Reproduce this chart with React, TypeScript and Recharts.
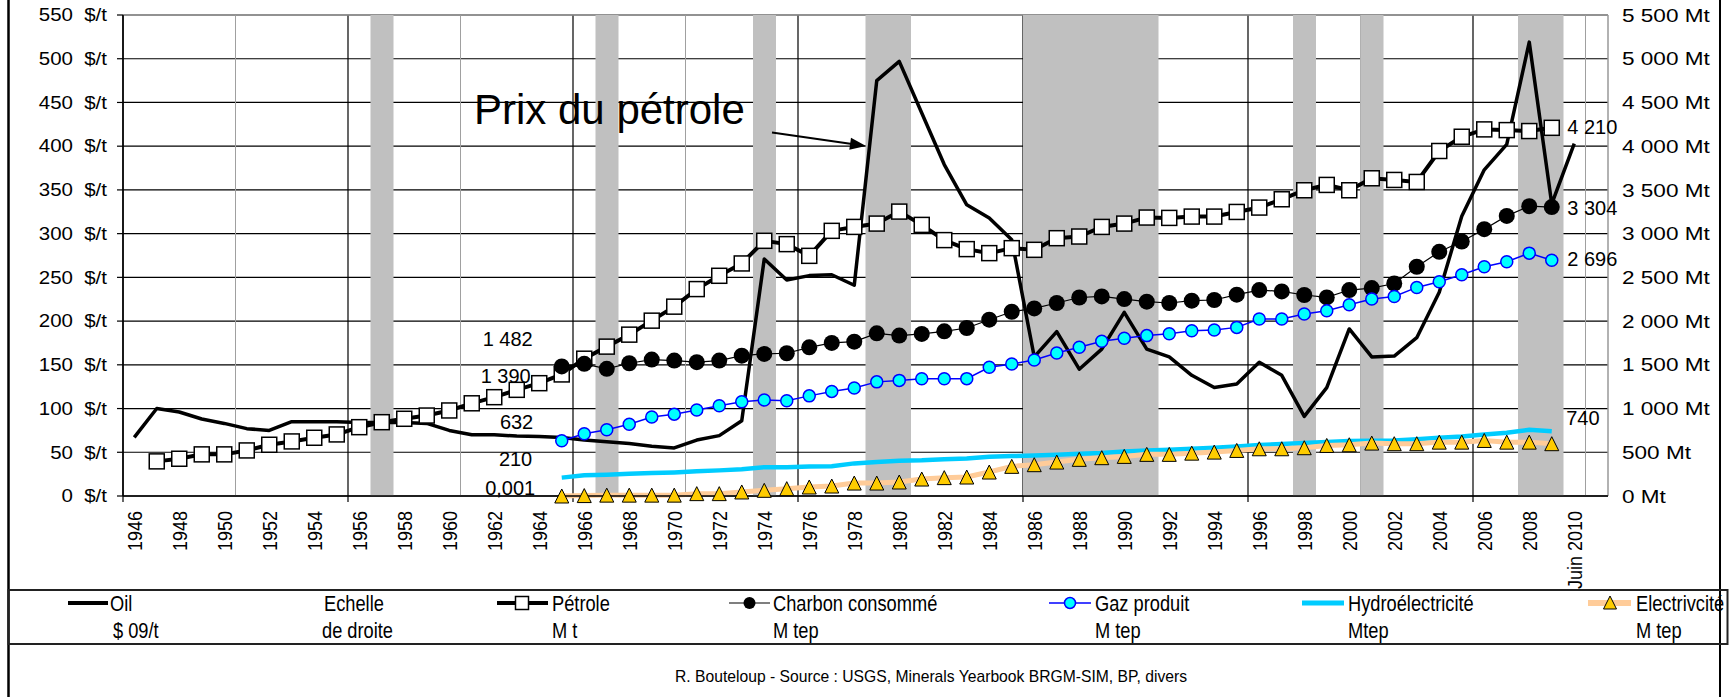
import React from "react"
import { ComposedChart, Line, Bar, XAxis, YAxis, CartesianGrid, ReferenceLine } from "recharts"

const FONT = '"Liberation Sans", Arial, sans-serif'

// catégories (la dernière est vide, comme sur le graphique Excel)
const years = [
  "1946", "1947", "1948", "1949", "1950", "1951", "1952", "1953", "1954", "1955",
  "1956", "1957", "1958", "1959", "1960", "1961", "1962", "1963", "1964", "1965",
  "1966", "1967", "1968", "1969", "1970", "1971", "1972", "1973", "1974", "1975",
  "1976", "1977", "1978", "1979", "1980", "1981", "1982", "1983", "1984", "1985",
  "1986", "1987", "1988", "1989", "1990", "1991", "1992", "1993", "1994", "1995",
  "1996", "1997", "1998", "1999", "2000", "2001", "2002", "2003", "2004", "2005",
  "2006", "2007", "2008", "2009", "2010", "2011",
]

// prix du pétrole, $ 2009 / t (1946 -> juin 2010)
const oil = [
  67, 100, 96, 88, 83, 77, 75, 85, 85, 85,
  84, 84, 84, 83, 75, 70, 70, 68.5, 68, 67,
  64, 62, 60, 57, 55, 64, 69, 86, 271, 247,
  252, 253, 241, 475, 497, 438, 379, 333, 318, 293,
  159, 188, 145, 168, 210, 168, 159, 138, 124, 128,
  153, 138, 91, 124, 191, 159, 160, 181, 233, 320,
  373, 402, 519, 334, 403,
]

// production de pétrole, Mt (1947 -> 2009)
const petrole = [
  396, 426, 476,
  476, 521, 586, 624, 666, 704, 787, 844, 883, 920,
  978, 1060, 1130, 1214, 1290, 1390, 1570, 1708, 1845, 2005,
  2165, 2366, 2518, 2659, 2918, 2880, 2746, 3032, 3077, 3115,
  3252, 3100, 2926, 2823, 2777, 2834, 2815, 2948, 2967, 3077,
  3115, 3184, 3180, 3195, 3195, 3248, 3298, 3393, 3496, 3557,
  3496, 3633, 3614, 3591, 3945, 4108, 4192, 4184, 4173, 4210,
]

// séries en M tep (1965 -> 2009)
const charbon = [
  1482, 1511, 1454, 1518, 1560,
  1548, 1530, 1548, 1605, 1625, 1632, 1700, 1750, 1765, 1860,
  1834, 1853, 1883, 1921, 2016, 2107, 2145, 2207, 2270, 2282,
  2252, 2222, 2207, 2233, 2241, 2302, 2355, 2339, 2298, 2271,
  2355, 2378, 2430, 2621, 2792, 2910, 3051, 3203, 3314, 3304,
]
const gaz = [
  632, 712, 757, 820, 903,
  936, 983, 1031, 1078, 1097, 1090, 1145, 1196, 1234, 1305,
  1322, 1340, 1340, 1342, 1472, 1510, 1556, 1636, 1700, 1769,
  1803, 1834, 1855, 1890, 1899, 1928, 2024, 2024, 2081, 2119,
  2187, 2252, 2282, 2385, 2450, 2530, 2621, 2678, 2777, 2696,
]
const hydro = [
  210, 236, 244, 255, 262,
  270, 282, 293, 305, 330, 330, 336, 341, 373, 388,
  404, 408, 419, 430, 450, 456, 464, 472, 484, 491,
  510, 520, 529, 540, 552, 567, 582, 594, 605, 617,
  628, 632, 635, 650, 666, 680, 704, 723, 757, 740,
]
const elec = [
  0.001, 5, 10, 10, 10,
  10, 27, 27, 46, 65, 84, 103, 114, 148, 148,
  160, 194, 210, 217, 274, 339, 358, 388, 419, 438,
  453, 476, 476, 490, 502, 521, 540, 540, 552, 578,
  586, 605, 598, 598, 616, 616, 635, 616, 616, 598,
]

// années grisées
const crisisYears = ["1957", "1967", "1974", "1979", "1980", "1986", "1987", "1988", "1989", "1990", "1991", "1998", "2001", "2008", "2009"]
const minorGridYears = ["1951", "1961", "1971", "1981", "1991", "2001", "2011"]
const majorGridYears = ["1946", "1956", "1966", "1976", "1986", "1996", "2006"]

const leftTicks = [0, 50, 100, 150, 200, 250, 300, 350, 400, 450, 500, 550]
const rightTicks = [0, 500, 1000, 1500, 2000, 2500, 3000, 3500, 4000, 4500, 5000, 5500]

const align = (start: number, values: number[]) =>
  years.map((y) => {
    const i = Number(y) - start
    return i >= 0 && i < values.length ? values[i] : null
  })

const data = (() => {
  const o = align(1946, oil)
  const p = align(1947, petrole)
  const c = align(1965, charbon)
  const g = align(1965, gaz)
  const h = align(1965, hydro)
  const e = align(1965, elec)
  return years.map((year, i) => ({
    year,
    oil: o[i],
    petrole: p[i],
    charbon: c[i],
    gaz: g[i],
    hydro: h[i],
    elec: e[i],
    crise: crisisYears.includes(year) ? 550 : null,
  }))
})()

// 1482 -> "1 482", 0.001 -> "0,001"
const fmt = (v: number) => {
  const [int, dec] = String(v).split(".")
  return int.replace(/\B(?=(\d{3})+(?!\d))/g, " ") + (dec ? "," + dec : "")
}

type PointLabel = { year: string; anchor: "start" | "end"; dx: number; dy: number }

function makeDot(values: (number | null)[], marker: (cx: number, cy: number) => React.ReactNode, labels: PointLabel[]) {
  return (props: any) => {
    const { cx, cy, index } = props
    if (cx == null || cy == null || isNaN(cy) || values[index] == null) return <g key={`d${index}`} />
    const lab = labels.find((l) => years.indexOf(l.year) === index)
    return (
      <g key={`d${index}`}>
        {marker(cx, cy)}
        {lab && (
          <text x={cx + lab.dx} y={cy + lab.dy} textAnchor={lab.anchor} fontSize={20} fontFamily={FONT} fill="#000">
            {fmt(values[index] as number)}
          </text>
        )}
      </g>
    )
  }
}

const square = (cx: number, cy: number) => (
  <rect x={cx - 7.5} y={cy - 7.5} width={15} height={15} fill="#fff" stroke="#000" strokeWidth={1.5} />
)
const blackDot = (cx: number, cy: number) => <circle cx={cx} cy={cy} r={8} fill="#000" />
const cyanDot = (cx: number, cy: number) => <circle cx={cx} cy={cy} r={6} fill="#00FFFF" stroke="#0000FF" strokeWidth={1.5} />
const triangle = (cx: number, cy: number) => (
  <polygon points={`${cx},${cy - 7} ${cx - 7},${cy + 7} ${cx + 7},${cy + 7}`} fill="#FFCC00" stroke="#000" strokeWidth={1} />
)

const LeftTick = ({ x, y, payload }: any) => (
  <g>
    <text transform={`translate(${x - 44},${y + 6.3}) scale(1.17,1)`} textAnchor="end" fontSize={17.5} fontFamily={FONT} fill="#000">
      {payload.value}
    </text>
    <text transform={`translate(${x - 10},${y + 6.3}) scale(1.17,1)`} textAnchor="end" fontSize={17.5} fontFamily={FONT} fill="#000">
      $/t
    </text>
  </g>
)

const RightTick = ({ x, y, payload }: any) => (
  <text transform={`translate(${x + 14},${y + 6.6}) scale(1.22,1)`} fontSize={18.5} fontFamily={FONT} fill="#000">
    {fmt(payload.value)} Mt
  </text>
)

const BottomTick = ({ x, y, payload, index }: any) => {
  if (index % 2 !== 0 || payload.value === "2011") return <g />
  const label = payload.value === "2010" ? "Juin 2010" : payload.value
  return (
    <text transform={`translate(${x + 7.5},${y + 15}) scale(1.17,1) rotate(-90)`} textAnchor="end" fontSize={18} fontFamily={FONT} fill="#000">
      {label}
    </text>
  )
}

const gridShape = (color: string, width: number, tick: number) => (p: any) => {
  const top = Math.min(p.y1, p.y2)
  const bottom = Math.max(p.y1, p.y2)
  return <line x1={p.x1} x2={p.x2} y1={top} y2={bottom + tick} stroke={color} strokeWidth={width} />
}

const LegendText = ({ x, y, children }: any) => (
  <text transform={`translate(${x},${y}) scale(0.83,1)`} fontSize={22} fontFamily={FONT} fill="#000">
    {children}
  </text>
)

export default function App() {
  return (
    <div style={{ position: "absolute", left: 0, top: 0, width: 1736, height: 697, background: "#fff", overflow: "hidden" }}>
      <ComposedChart
        width={1736}
        height={697}
        data={data}
        margin={{ top: 15, right: 0, bottom: 0, left: 0 }}
        barCategoryGap={0}
        barGap={0}
      >
        <CartesianGrid yAxisId="left" vertical={false} stroke="#000" strokeWidth={1.2} />

        {minorGridYears.map((y) => (
          <ReferenceLine key={`mi${y}`} x={y} yAxisId="left" position="start" zIndex={-90}
            shape={gridShape("#A0A0A0", 1, 0)} />
        ))}
        {majorGridYears.map((y) => (
          <ReferenceLine key={`ma${y}`} x={y} yAxisId="left" position="start" zIndex={-90}
            shape={gridShape("#000", 1.2, 6)} />
        ))}
        <ReferenceLine y={550} yAxisId="left" stroke="#999" strokeWidth={1.5} zIndex={-90} />
        <ReferenceLine x="2011" yAxisId="left" position="end" stroke="#999" strokeWidth={1.5} zIndex={-90} />

        <Bar dataKey="crise" yAxisId="left" fill="#C0C0C0" isAnimationActive={false} />

        <Line dataKey="oil" yAxisId="left" stroke="#000" strokeWidth={3.5} dot={false} activeDot={false}
          strokeLinejoin="round" isAnimationActive={false} />
        <Line dataKey="petrole" yAxisId="right" stroke="#000" strokeWidth={4} activeDot={false} isAnimationActive={false}
          dot={makeDot(data.map((d) => d.petrole), square, [
            { year: "1965", anchor: "end", dx: -31, dy: 8.8 },
            { year: "2009", anchor: "start", dx: 15.5, dy: 6.4 },
          ])} />
        <Line dataKey="charbon" yAxisId="right" stroke="#000" strokeWidth={1.2} activeDot={false} isAnimationActive={false}
          dot={makeDot(data.map((d) => d.charbon), blackDot, [
            { year: "1965", anchor: "end", dx: -29, dy: -20.2 },
            { year: "2009", anchor: "start", dx: 15.5, dy: 7.7 },
          ])} />
        <Line dataKey="gaz" yAxisId="right" stroke="#0000FF" strokeWidth={1.5} activeDot={false} isAnimationActive={false}
          dot={makeDot(data.map((d) => d.gaz), cyanDot, [
            { year: "1965", anchor: "end", dx: -28.5, dy: -11.5 },
            { year: "2009", anchor: "start", dx: 15.5, dy: 6 },
          ])} />
        <Line dataKey="hydro" yAxisId="right" stroke="#00CCFF" strokeWidth={4.5} activeDot={false} isAnimationActive={false}
          dot={makeDot(data.map((d) => d.hydro), () => null, [
            { year: "1965", anchor: "end", dx: -29.5, dy: -11.4 },
            { year: "2009", anchor: "start", dx: 14.5, dy: -6.1 },
          ])} />
        <Line dataKey="elec" yAxisId="right" stroke="#FFCC99" strokeWidth={5} activeDot={false} isAnimationActive={false}
          dot={makeDot(data.map((d) => d.elec), triangle, [
            { year: "1965", anchor: "end", dx: -26.5, dy: -0.8 },
          ])} />

        <XAxis dataKey="year" height={201} interval={0} tickLine={false} tickSize={0} tickMargin={0}
          axisLine={{ stroke: "#000", strokeWidth: 1.5 }} tick={<BottomTick />} />
        <YAxis yAxisId="left" domain={[0, 550]} ticks={leftTicks} interval={0} width={123}
          tickSize={6} tickMargin={0} axisLine={{ stroke: "#000", strokeWidth: 1.5 }}
          tickLine={{ stroke: "#000", strokeWidth: 1.2 }} tick={<LeftTick />} />
        <YAxis yAxisId="right" orientation="right" domain={[0, 5500]} ticks={rightTicks} interval={0} width={128}
          tickSize={0} tickMargin={0} axisLine={false} tickLine={false} tick={<RightTick />} />
      </ComposedChart>

      <svg width={1736} height={697} style={{ position: "absolute", left: 0, top: 0, pointerEvents: "none" }}>
        {/* cadre */}
        <line x1={8.5} y1={0} x2={8.5} y2={697} stroke="#000" strokeWidth={2.5} />
        <line x1={1720} y1={0} x2={1720} y2={697} stroke="#000" strokeWidth={2} />
        <rect x={8.5} y={590} width={1719} height={54} fill="none" stroke="#222" strokeWidth={2} />

        {/* annotation */}
        <text x={474} y={124} fontSize={42} fontFamily={FONT} fill="#000">Prix du pétrole</text>
        <line x1={772} y1={132.5} x2={852} y2={144} stroke="#000" strokeWidth={2} />
        <polygon points="866,146 849.3,149.7 851,137.8" fill="#000" />

        {/* légende */}
        <line x1={68} y1={603} x2={108} y2={603} stroke="#000" strokeWidth={4} />
        <LegendText x={110} y={611}>Oil</LegendText>
        <LegendText x={113} y={638}>$ 09/t</LegendText>

        <LegendText x={324} y={611}>Echelle</LegendText>
        <LegendText x={322} y={638}>de droite</LegendText>

        <line x1={497} y1={603} x2={548} y2={603} stroke="#000" strokeWidth={4} />
        <rect x={515.5} y={596.5} width={13} height={13} fill="#fff" stroke="#000" strokeWidth={1.5} />
        <LegendText x={552} y={611}>Pétrole</LegendText>
        <LegendText x={552} y={638}>M t</LegendText>

        <line x1={729} y1={603} x2={770} y2={603} stroke="#000" strokeWidth={1.2} />
        <circle cx={749.5} cy={603} r={6} fill="#000" />
        <LegendText x={773} y={611}>Charbon consommé</LegendText>
        <LegendText x={773} y={638}>M tep</LegendText>

        <line x1={1049} y1={603} x2={1091} y2={603} stroke="#0000FF" strokeWidth={1.5} />
        <circle cx={1070} cy={603} r={5.5} fill="#00FFFF" stroke="#0000FF" strokeWidth={1.5} />
        <LegendText x={1095} y={611}>Gaz produit</LegendText>
        <LegendText x={1095} y={638}>M tep</LegendText>

        <line x1={1302} y1={603} x2={1344} y2={603} stroke="#00CCFF" strokeWidth={5} />
        <LegendText x={1348} y={611}>Hydroélectricité</LegendText>
        <LegendText x={1348} y={638}>Mtep</LegendText>

        <line x1={1588} y1={603} x2={1631} y2={603} stroke="#FFCC99" strokeWidth={6} />
        <polygon points="1610,596 1603.5,609 1616.5,609" fill="#FFCC00" stroke="#000" strokeWidth={1} />
        <LegendText x={1636} y={611}>Electrivcité</LegendText>
        <LegendText x={1636} y={638}>M tep</LegendText>

        <text x={675} y={682} fontSize={17} fontFamily={FONT} fill="#000" textLength={512} lengthAdjust="spacingAndGlyphs">
          R. Bouteloup - Source : USGS, Minerals Yearbook BRGM-SIM, BP, divers
        </text>
      </svg>
    </div>
  )
}
